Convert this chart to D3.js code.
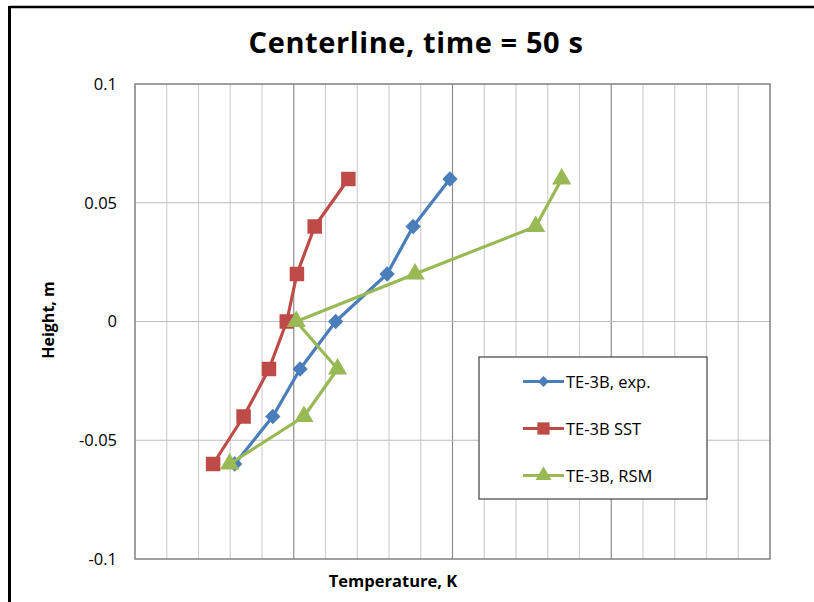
<!DOCTYPE html>
<html>
<head>
<meta charset="utf-8">
<script src="https://cdn.jsdelivr.net/npm/d3@7"></script>
<style>
  html, body { margin: 0; padding: 0; background: #fff; }
  svg { display: block; }
</style>
</head>
<body>
<script>
// Centerline temperature profiles at t = 50 s
const heights = [0.06, 0.04, 0.02, 0.0, -0.02, -0.04, -0.06];
const expTemps = [349.6, 343.8, 339.7, 331.6, 326.0, 321.7, 315.7];
const sstTemps = [333.6, 328.3, 325.5, 323.9, 321.1, 317.1, 312.3];
const rsmTemps = [367.2, 363.1, 344.1, 325.4, 331.9, 326.6, 314.9];
const seriesNames = ["TE-3B, exp.", "TE-3B SST", "TE-3B, RSM"];
const yTicks = [0.1, 0.05, 0, -0.05, -0.1];
const yTickLabels = ["0.1", "0.05", "0", "-0.05", "-0.1"];

const W = 814, H = 602;
const plot = { left: 135, right: 770, top: 84, bottom: 559 };
const font = "'Open Sans', 'Liberation Sans', Arial, sans-serif";

const svg = d3.select("body").append("svg").attr("width", W).attr("height", H);

// chart frame (top and left edges)
svg.append("line").attr("x1", 9.5).attr("x2", W).attr("y1", 7).attr("y2", 7)
  .attr("stroke", "#000").attr("stroke-width", 2.5);
svg.append("line").attr("x1", 9.5).attr("x2", 9.5).attr("y1", 6).attr("y2", H)
  .attr("stroke", "#000").attr("stroke-width", 3);

const x = d3.scaleLinear().domain([300, 400]).range([plot.left, plot.right]);
const y = d3.scaleLinear().domain([-0.1, 0.1]).range([plot.bottom, plot.top]);

// minor vertical gridlines
const minor = d3.range(305, 400, 5).filter(v => v % 25 !== 0);
svg.append("g").selectAll("line").data(minor).join("line")
  .attr("x1", d => x(d)).attr("x2", d => x(d))
  .attr("y1", plot.top).attr("y2", plot.bottom)
  .attr("stroke", "#d0d0d0").attr("stroke-width", 1.2);
// major vertical gridlines
svg.append("g").selectAll("line").data([325, 350, 375]).join("line")
  .attr("x1", d => x(d)).attr("x2", d => x(d))
  .attr("y1", plot.top).attr("y2", plot.bottom)
  .attr("stroke", "#8c8c8c").attr("stroke-width", 1.2);
// horizontal gridlines
svg.append("g").selectAll("line").data([0.05, 0, -0.05]).join("line")
  .attr("x1", plot.left).attr("x2", plot.right)
  .attr("y1", d => y(d)).attr("y2", d => y(d))
  .attr("stroke", "#bdbdbd").attr("stroke-width", 1.2);

// plot border
svg.append("rect").attr("x", plot.left).attr("y", plot.top)
  .attr("width", plot.right - plot.left).attr("height", plot.bottom - plot.top)
  .attr("fill", "none").attr("stroke", "#808080").attr("stroke-width", 1.5);

// y axis tick labels
const yAxis = d3.axisLeft(y).tickValues(yTicks)
  .tickFormat((d, i) => yTickLabels[i]).tickSize(0).tickPadding(18);
const gy = svg.append("g").attr("transform", `translate(${plot.left},0)`).call(yAxis);
gy.select(".domain").remove();
gy.selectAll("text").attr("font-family", font).attr("font-size", 16.5).attr("fill", "#000");

// titles
svg.append("text").attr("x", 416).attr("y", 53).attr("text-anchor", "middle")
  .attr("font-family", font).attr("font-weight", "bold").attr("font-size", 29)
  .attr("letter-spacing", 0.6)
  .text("Centerline, time = 50 s");
svg.append("text").attr("x", 393).attr("y", 587).attr("text-anchor", "middle")
  .attr("font-family", font).attr("font-weight", "bold").attr("font-size", 16.5)
  .text("Temperature, K");
svg.append("text").attr("transform", "translate(54,320) rotate(-90)")
  .attr("text-anchor", "middle")
  .attr("font-family", font).attr("font-weight", "bold").attr("font-size", 16)
  .text("Height, m");

const colors = ["#4A7EBB", "#BE4B48", "#98B954"];
const symbols = [d3.symbolDiamond2, d3.symbolSquare, d3.symbolTriangle];
const sizes = [150, 210, 160];
const allTemps = [expTemps, sstTemps, rsmTemps];

const line = d3.line().x(d => x(d[0])).y(d => y(d[1]));

allTemps.forEach((temps, s) => {
  const pts = temps.map((t, i) => [t, heights[i]]);
  const g = svg.append("g");
  g.append("path").datum(pts).attr("d", line)
    .attr("fill", "none").attr("stroke", colors[s]).attr("stroke-width", 3.2)
    .attr("stroke-linejoin", "round");
  g.selectAll("path.m").data(pts).join("path").attr("class", "m")
    .attr("transform", d => `translate(${x(d[0])},${y(d[1])})`)
    .attr("d", d3.symbol().type(symbols[s]).size(sizes[s]))
    .attr("fill", colors[s]);
});

// legend
const lg = svg.append("g");
lg.append("rect").attr("x", 479).attr("y", 357).attr("width", 228).attr("height", 142)
  .attr("fill", "#fff").attr("stroke", "#404040").attr("stroke-width", 1.2);
const legSizes = [75, 150, 110];
seriesNames.forEach((name, s) => {
  const cy = 381.5 + s * 47;
  lg.append("line").attr("x1", 523).attr("x2", 564).attr("y1", cy).attr("y2", cy)
    .attr("stroke", colors[s]).attr("stroke-width", 3);
  lg.append("path").attr("transform", `translate(543.5,${cy})`)
    .attr("d", d3.symbol().type(symbols[s]).size(legSizes[s])).attr("fill", colors[s]);
  lg.append("text").attr("x", 566).attr("y", cy + 6)
    .attr("font-family", font).attr("font-size", 16.5).attr("fill", "#000")
    .text(name);
});
</script>
</body>
</html>
